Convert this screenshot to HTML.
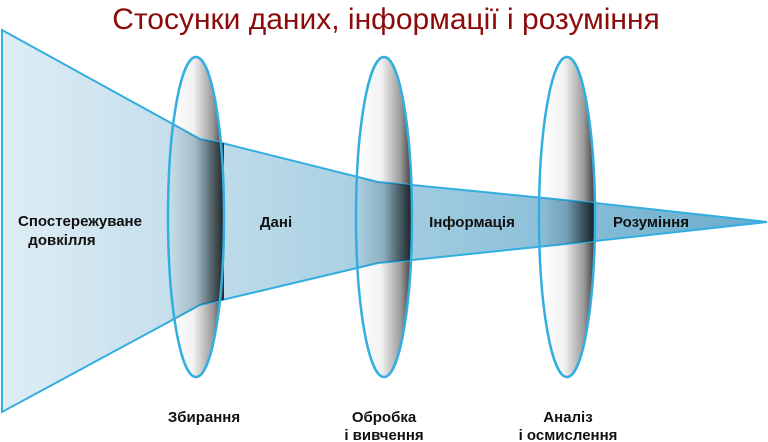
<!DOCTYPE html>
<html><head><meta charset="utf-8"><style>
html,body{margin:0;padding:0;background:#fff;width:768px;height:442px;overflow:hidden}
svg text{font-family:"Liberation Sans","DejaVu Sans",sans-serif}
</style></head><body>
<svg width="768" height="442" viewBox="0 0 768 442">
<defs>
<linearGradient id="lensG" x1="0" x2="1" y1="0" y2="0">
<stop offset="0" stop-color="#fff"/><stop offset="0.45" stop-color="#f2f2f2"/><stop offset="0.8" stop-color="#9a9a9a"/><stop offset="1" stop-color="#3a3a3a"/></linearGradient>
<linearGradient id="beamG" x1="0" x2="1" y1="0" y2="0">
<stop offset="0" stop-color="#d9eaf3"/><stop offset="0.5" stop-color="#96c6dc"/><stop offset="1" stop-color="#4f9dc4"/></linearGradient>
<linearGradient id="darkG" x1="0" x2="1" y1="0" y2="0">
<stop offset="0" stop-color="#000" stop-opacity="0"/><stop offset="0.5" stop-color="#000" stop-opacity="0.15"/><stop offset="1" stop-color="#000" stop-opacity="0.8"/></linearGradient>
<clipPath id="beamClip"><polygon points="2,30 200,139 222,143 378,182 412,185 595,203 767,222 595,241 412,260 378,263 222,300 200,305 2,412"/></clipPath>
</defs>
<text x="386" y="29" text-anchor="middle" font-size="30" fill="#8b0a0a">Стосунки даних, інформації і розуміння</text>
<g><ellipse cx="196" cy="217" rx="28" ry="160" fill="url(#lensG)"/></g>
<g><ellipse cx="384" cy="217" rx="28" ry="160" fill="url(#lensG)"/></g>
<g><ellipse cx="567" cy="217" rx="28" ry="160" fill="url(#lensG)"/></g>
<polygon points="2,30 200,139 222,143 378,182 412,185 595,203 767,222 595,241 412,260 378,263 222,300 200,305 2,412" fill="url(#beamG)" fill-opacity="0.85" stroke="#33aee0" stroke-width="2"/>
<g clip-path="url(#beamClip)">
<rect x="168" y="0" width="56" height="442" fill="url(#darkG)"/>
<rect x="356" y="0" width="56" height="442" fill="url(#darkG)"/>
<rect x="539" y="0" width="56" height="442" fill="url(#darkG)"/>
</g>
<g fill="none" stroke="#33aee0" stroke-width="2.5">
<ellipse cx="196" cy="217" rx="28" ry="160"/>
<ellipse cx="384" cy="217" rx="28" ry="160"/>
<ellipse cx="567" cy="217" rx="28" ry="160"/>
</g>
<g font-size="15" font-weight="bold" fill="#111" text-anchor="middle">
<text x="80" y="226">Спостережуване</text>
<text x="62" y="245">довкілля</text>
<text x="276" y="227">Дані</text>
<text x="472" y="227">Інформація</text>
<text x="651" y="227">Розуміння</text>
<text x="204" y="422">Збирання</text>
<text x="384" y="422">Обробка</text>
<text x="384" y="440">і вивчення</text>
<text x="568" y="422">Аналіз</text>
<text x="568" y="440">і осмислення</text>
</g>
</svg>
</body></html>
